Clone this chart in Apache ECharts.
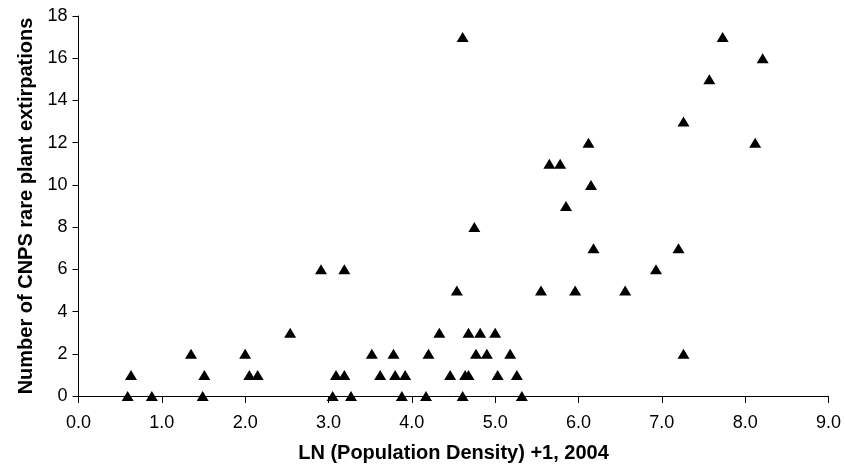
<!DOCTYPE html>
<html>
<head>
<meta charset="utf-8">
<script src="https://cdn.jsdelivr.net/npm/echarts@6/dist/echarts.min.js"></script>
<style>
  html, body { margin: 0; padding: 0; background: #fff; }
  #chart { width: 845px; height: 468px; }
</style>
</head>
<body>
<div id="chart"></div>
<script>
// LN(population density)+1 for each county, and the number of extirpations
var density = [
    0.59, 0.63, 0.88, 1.35, 1.49, 1.51, 2.00, 2.05, 2.15, 2.54,
    2.91, 3.05, 3.09, 3.19, 3.19, 3.27, 3.52, 3.62, 3.78, 3.80,
    3.88, 3.92, 4.17, 4.20, 4.33, 4.46, 4.54, 4.61, 4.61, 4.64,
    4.68, 4.68, 4.75, 4.77, 4.82, 4.90, 5.00, 5.03, 5.18, 5.26,
    5.32, 5.55, 5.65, 5.78, 5.85, 5.96, 6.12, 6.15, 6.18, 6.56,
    6.93, 7.20, 7.26, 7.26, 7.57, 7.73, 8.12, 8.21
];
var extirpations = [
    0, 1, 0, 2, 0, 1, 2, 1, 1, 3,
    6, 0, 1, 6, 1, 0, 2, 1, 2, 1,
    0, 1, 0, 2, 3, 1, 5, 17, 0, 1,
    1, 3, 8, 2, 3, 2, 3, 1, 2, 1,
    0, 5, 11, 11, 9, 5, 12, 10, 7, 5,
    6, 7, 13, 2, 15, 17, 12, 16
];

var points = [];
for (var i = 0; i < density.length; i++) {
    points.push([density[i], extirpations[i]]);
}

var myChart = echarts.init(document.getElementById('chart'));
var option = {
    backgroundColor: '#ffffff',
    animation: false,
    grid: {
        left: 78.5,
        right: 16.5,
        top: 16,
        bottom: 70
    },
    xAxis: {
        type: 'value',
        min: 0,
        max: 9,
        interval: 1,
        name: 'LN (Population Density) +1, 2004',
        nameLocation: 'middle',
        nameGap: 47,
        nameTextStyle: {
            color: '#000',
            fontFamily: 'Liberation Sans',
            fontWeight: 'bold',
            fontSize: 20
        },
        axisLine: { lineStyle: { color: '#000', width: 1 } },
        axisTick: { show: true, length: 7, lineStyle: { color: '#000' } },
        axisLabel: {
            color: '#000',
            fontFamily: 'Liberation Sans',
            fontSize: 18,
            margin: 18,
            formatter: function (value) {
                return value.toFixed(1);
            }
        },
        splitLine: { show: false }
    },
    yAxis: {
        type: 'value',
        min: 0,
        max: 18,
        interval: 2,
        name: 'Number of CNPS rare plant extirpations',
        nameLocation: 'middle',
        nameGap: 42,
        nameTextStyle: {
            color: '#000',
            fontFamily: 'Liberation Sans',
            fontWeight: 'bold',
            fontSize: 20
        },
        axisLine: { show: true, lineStyle: { color: '#000', width: 1 } },
        axisTick: { show: true, length: 6, lineStyle: { color: '#000' } },
        axisLabel: {
            color: '#000',
            fontFamily: 'Liberation Sans',
            fontSize: 18,
            margin: 11
        },
        splitLine: { show: false }
    },
    series: [{
        type: 'scatter',
        data: points,
        symbol: 'triangle',
        symbolSize: [12, 10],
        itemStyle: {
            color: '#000',
            opacity: 1
        }
    }]
};
myChart.setOption(option);
</script>
</body>
</html>
